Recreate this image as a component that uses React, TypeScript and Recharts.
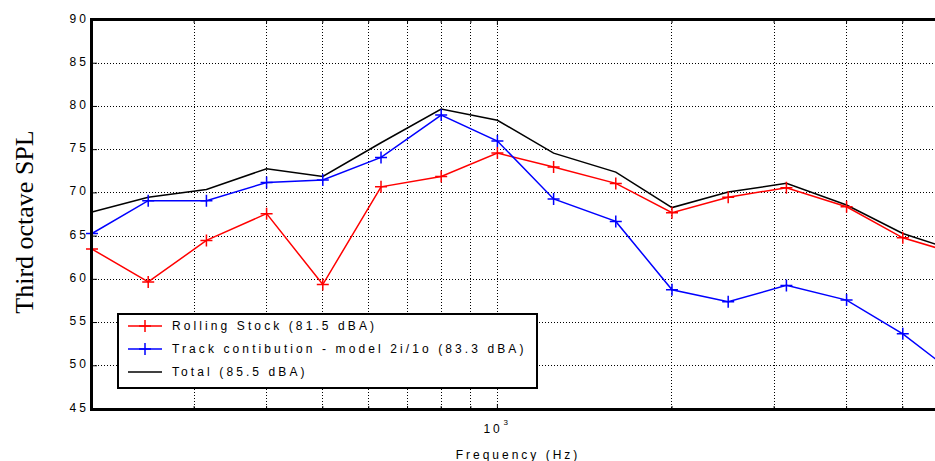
import React from "react";
import {
  LineChart,
  Line,
  XAxis,
  YAxis,
  CartesianGrid,
  Label,
} from "recharts";

// third octave band centres (Hz)
const FREQS = [200, 250, 315, 400, 500, 630, 800, 1000, 1250, 1600, 2000, 2500, 3150, 4000, 5000, 6300];

// SPL per band (dB)
const ROLLING = [63.5, 59.7, 64.5, 67.6, 59.4, 70.7, 71.9, 74.6, 73.0, 71.1, 67.7, 69.5, 70.6, 68.4, 64.8, 62.8];
const TRACK = [65.3, 69.1, 69.1, 71.2, 71.5, 74.1, 79.0, 76.0, 69.3, 66.7, 58.8, 57.4, 59.3, 57.6, 53.7, 48.5];
const TOTAL = [67.8, 69.5, 70.4, 72.8, 71.9, 75.8, 79.7, 78.4, 74.6, 72.4, 68.3, 70.1, 71.1, 68.6, 65.3, 63.1];

const Y_TICKS = [45, 50, 55, 60, 65, 70, 75, 80, 85, 90];
const X_TICKS = [300, 400, 500, 600, 700, 800, 900, 1000, 2000, 3000, 4000, 5000, 6000];

const SERIES = [
  { key: "rolling", name: "Rolling Stock (81.5 dBA)", color: "#ff0000", marker: true },
  { key: "track", name: "Track contibution - model 2i/1o (83.3 dBA)", color: "#0000ff", marker: true },
  { key: "total", name: "Total (85.5 dBA)", color: "#000000", marker: false },
];

const data = FREQS.map((f, i) => ({
  f,
  rolling: ROLLING[i],
  track: TRACK[i],
  total: TOTAL[i],
}));

const PLOT_LEFT = 92;
const PLOT_TOP = 20;
const PLOT_BOTTOM = 409;
const PLOT_RIGHT = 961;
const SANS = "'Liberation Sans', Arial, sans-serif";

function plusPath(cx: number, cy: number, r: number) {
  return `M${cx - r},${cy}L${cx + r},${cy}M${cx},${cy - r}L${cx},${cy + r}`;
}

const renderPlus = (color: string) => (props: any) => {
  const { cx, cy, index } = props;
  if (cx == null || cy == null) return <g key={`p-${index}`} />;
  return (
    <path
      key={`p-${color}-${index}`}
      d={plusPath(cx, cy, 6)}
      stroke={color}
      strokeWidth={1.5}
      fill="none"
    />
  );
};

function XTick(props: any) {
  const { x, payload } = props;
  const major = payload.value === 1000;
  const len = major ? 5 : 3;
  return (
    <g>
      <line x1={x} x2={x} y1={PLOT_BOTTOM} y2={PLOT_BOTTOM - len} stroke="#000" strokeWidth={1} />
      <line x1={x} x2={x} y1={PLOT_TOP} y2={PLOT_TOP + len} stroke="#000" strokeWidth={1} />
      {major && (
        <>
          <text x={x - 14} y={433} fontSize={12} fontFamily={SANS} letterSpacing={3} fill="#000">
            10
          </text>
          <text x={x + 6} y={425} fontSize={8} fontFamily={SANS} fill="#000">
            3
          </text>
        </>
      )}
    </g>
  );
}

function YTick(props: any) {
  const { y, payload } = props;
  return (
    <g>
      <line x1={PLOT_LEFT} x2={PLOT_LEFT + 5} y1={y} y2={y} stroke="#000" strokeWidth={1} />
      <text
        x={89}
        y={y + 2.5}
        textAnchor="end"
        fontSize={12}
        fontFamily={SANS}
        letterSpacing={3.1}
        fill="#000"
      >
        {payload.value}
      </text>
    </g>
  );
}

function LegendBox() {
  return (
    <div
      style={{
        position: "absolute",
        left: 117,
        top: 313,
        width: 421,
        height: 76,
        boxSizing: "border-box",
        border: "2px solid #000",
        background: "#fff",
      }}
    >
      {SERIES.map((s, i) => (
        <div
          key={s.key}
          style={{
            position: "absolute",
            left: 7,
            top: 11 + i * 23 - 10,
            height: 20,
            display: "flex",
            alignItems: "center",
            whiteSpace: "nowrap",
          }}
        >
          <svg width={36} height={20} style={{ display: "block" }}>
            <line x1={2} x2={36} y1={10} y2={10} stroke={s.color} strokeWidth={1.5} />
            {s.marker && <path d={plusPath(19, 10, 6)} stroke={s.color} strokeWidth={1.5} />}
          </svg>
          <span
            style={{
              marginLeft: 10,
              fontFamily: SANS,
              fontSize: 12,
              letterSpacing: 3.1,
              color: "#000",
            }}
          >
            {s.name}
          </span>
        </div>
      ))}
    </div>
  );
}

// axes box drawn on top of the plot, like the original figure frame
function AxesBox() {
  return (
    <div
      style={{
        position: "absolute",
        left: PLOT_LEFT - 2,
        top: PLOT_TOP - 2,
        width: PLOT_RIGHT - PLOT_LEFT + 4,
        height: PLOT_BOTTOM - PLOT_TOP + 4,
        boxSizing: "border-box",
        borderStyle: "solid",
        borderColor: "#000",
        borderWidth: 3,
        pointerEvents: "none",
        zIndex: 5,
      }}
    />
  );
}

export default function App() {
  return (
    <div
      style={{
        position: "fixed",
        left: 0,
        top: 0,
        width: 935,
        height: 461,
        overflow: "hidden",
        background: "#fff",
      }}
    >
      <LineChart
        width={PLOT_RIGHT + 10}
        height={461}
        data={data}
        margin={{ top: PLOT_TOP, right: 10, bottom: 0, left: 0 }}
      >
        <CartesianGrid
          stroke="#000"
          strokeWidth={1}
          strokeDasharray="1 2"
          shapeRendering="crispEdges"
        />
        <XAxis
          dataKey="f"
          type="number"
          scale="log"
          domain={[200, 6300]}
          ticks={X_TICKS}
          interval={0}
          tick={(p: any) => <XTick {...p} />}
          tickLine={false}
          axisLine={false}
          height={52}
        >
          <Label
            content={() => (
              <text
                x={518}
                y={459}
                textAnchor="middle"
                fontSize={12}
                fontFamily={SANS}
                letterSpacing={3}
                fill="#000"
              >
                Frequency (Hz)
              </text>
            )}
          />
        </XAxis>
        <YAxis
          type="number"
          domain={[45, 90]}
          ticks={Y_TICKS}
          interval={0}
          tick={(p: any) => <YTick {...p} />}
          tickLine={false}
          axisLine={false}
          width={PLOT_LEFT}
        >
          <Label
            content={() => (
              <text
                x={33}
                y={222}
                transform="rotate(-90 33 222)"
                textAnchor="middle"
                fontSize={26}
                fontFamily="'Liberation Serif', 'Times New Roman', serif"
                fill="#000"
              >
                Third octave SPL
              </text>
            )}
          />
        </YAxis>
        {SERIES.map((s) => (
          <Line
            key={s.key}
            type="linear"
            dataKey={s.key}
            name={s.name}
            stroke={s.color}
            strokeWidth={1.5}
            dot={s.marker ? renderPlus(s.color) : false}
            activeDot={false}
            isAnimationActive={false}
          />
        ))}
      </LineChart>
      <AxesBox />
      <LegendBox />
    </div>
  );
}
